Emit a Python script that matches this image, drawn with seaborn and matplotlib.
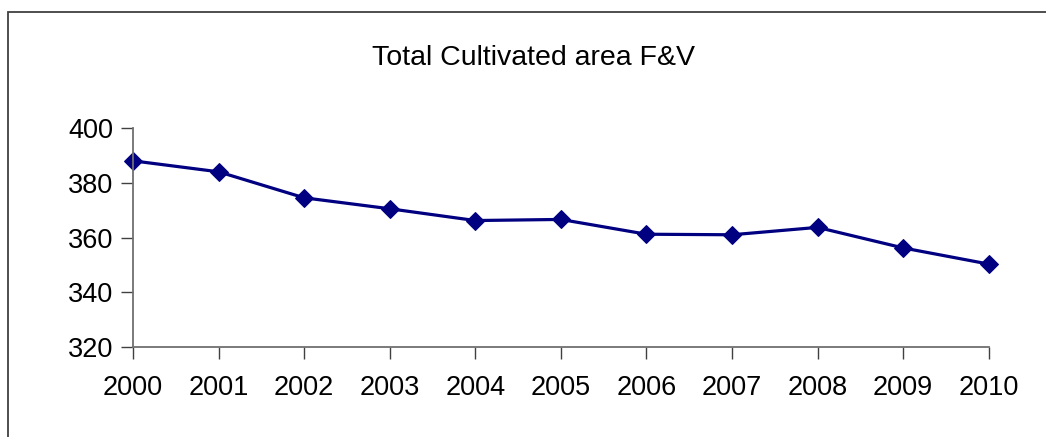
import pandas as pd
import seaborn as sns
import matplotlib.pyplot as plt
from matplotlib.patches import Rectangle

# data
years = [2000, 2001, 2002, 2003, 2004, 2005, 2006, 2007, 2008, 2009, 2010]
area = [388.0, 384.0, 374.5, 370.5, 366.2, 366.6, 361.2, 361.0, 363.7, 356.2, 350.3]
y_ticks = [320, 340, 360, 380, 400]

df = pd.DataFrame({"year": years, "area": area})

sns.set_style("white")
plt.rcParams["font.family"] = ["Liberation Sans", "DejaVu Sans"]
plt.rcParams["text.color"] = "black"
plt.rcParams["xtick.labelcolor"] = "black"
plt.rcParams["ytick.labelcolor"] = "black"

fig = plt.figure(figsize=(10.46, 4.37), dpi=100)
ax = fig.add_axes([0.1272, 0.2059, 0.818, 0.5012])

sns.lineplot(data=df, x="year", y="area", ax=ax, color="#000080", linewidth=2.3,
             marker="D", markersize=9, markeredgecolor="#000080", clip_on=False)

ax.set_xlim(2000, 2010)
ax.set_ylim(320, 400)
ax.set_xticks(years)
ax.set_yticks(y_ticks)
ax.set_xlabel("")
ax.set_ylabel("")
ax.tick_params(axis="both", direction="out", length=8.5, width=1, color="#404040",
               labelsize=19.5, labelcolor="black", left=True, bottom=True)
ax.tick_params(axis="x", pad=12)
ax.tick_params(axis="y", pad=6)
for s in ["top", "right"]:
    ax.spines[s].set_visible(False)
for s in ["left", "bottom"]:
    ax.spines[s].set_color("#707070")
    ax.spines[s].set_linewidth(1.3)

fig.text(0.51, 0.867, "Total Cultivated area F&V", ha="center", va="center",
         fontsize=20.5, color="black")

# outer chart frame (only top and left edges fall inside the image)
fig.patches.append(Rectangle((8 / 1046, -0.2), 1.2, (437 - 12) / 437 + 0.2,
                             transform=fig.transFigure, fill=False,
                             edgecolor="#404040", linewidth=1.3))

fig.savefig("out.png", dpi=100)
